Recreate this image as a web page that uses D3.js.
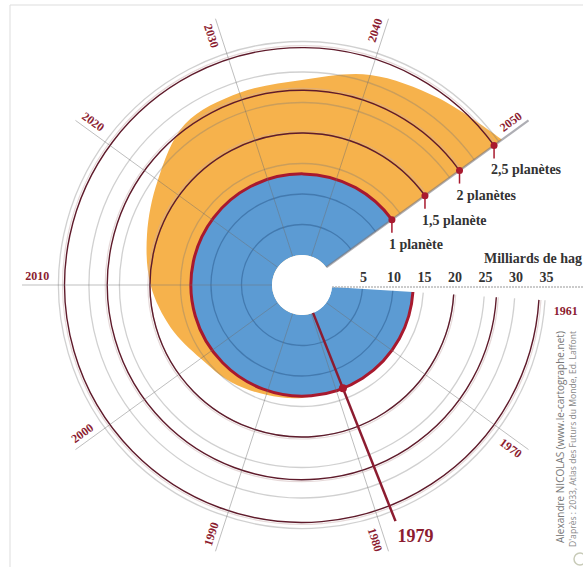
<!DOCTYPE html>
<html><head><meta charset="utf-8">
<script src="https://cdn.jsdelivr.net/npm/d3@7"></script>
<style>
html,body{margin:0;padding:0;background:#fff;}
svg{display:block;}
</style></head>
<body>
<svg id="chart" width="583" height="567"></svg>
<script>
// ---- data ----
const yearLabels = [1961, 1970, 1980, 1990, 2000, 2010, 2020, 2030, 2040, 2050];
const decadeLines = [1970, 1980, 1990, 2000, 2010, 2020, 2030, 2040, 2050];
const tickValues = [5, 10, 15, 20, 25, 30, 35];
const gridValues = [5, 10, 15, 20, 25, 30, 35];
const planetNames = ["1 planète", "1,5 planète", "2 planètes", "2,5 planètes"];
const planetValues = [13.3, 20.0, 27.0, 34.0];
const footYears  = [1979, 1985, 1990, 1995, 2000, 2005, 2010, 2015, 2020, 2025, 2030, 2035, 2040, 2045, 2050];
const footValues = [13.3, 13.6, 14.0, 14.8, 15.6, 17.7, 19.9, 21.8, 24.3, 27.7, 28.2, 28.7, 31.3, 33.0, 35.6];
const firstYear = 1961, lastYear = 2050, overshootYear = 1979;
const axisTitle = "Milliards de hag";
const credit1 = "Alexandre NICOLAS (www.le-cartographe.net)";
const credit2 = "D'après : 2033, Atlas des Futurs du Monde, Ed. Laffont";

// ---- setup ----
const svg = d3.select("#chart");
const cx = 302, cy = 285;
const g = svg.append("g").attr("transform", `translate(${cx},${cy})`);
const r = d3.scaleLinear().domain([0, 35]).range([30, 243.5]);
const a = d3.scaleLinear().domain([1960, 2060]).range([Math.PI / 2, Math.PI / 2 + 2 * Math.PI]);
const serif = "'Liberation Serif','DejaVu Serif',serif";
const darkRed = "#8c1c30";

// frame
svg.append("line").attr("x1", 10).attr("y1", 5).attr("x2", 583).attr("y2", 5).attr("stroke", "#ddd");
svg.append("line").attr("x1", 10).attr("y1", 5).attr("x2", 10).attr("y2", 567).attr("stroke", "#ddd");

// orange footprint area
const area = d3.areaRadial()
  .angle((d, i) => a(footYears[i]))
  .innerRadius(r(0))
  .outerRadius((d, i) => r(footValues[i]))
  .curve(d3.curveCatmullRom);
g.append("path").attr("d", area(footValues)).attr("fill", "#f6b24c");

// blue biocapacity sector
g.append("path")
  .attr("d", d3.arc()({innerRadius: r(0), outerRadius: r(planetValues[0]), startAngle: a(firstYear), endAngle: a(lastYear)}))
  .attr("fill", "#5c9bd3");

// grid circles
const arcGen = d3.arc();
gridValues.forEach(v => {
  const inBlue = v < planetValues[0];
  g.append("path")
    .attr("d", arcGen({innerRadius: r(v), outerRadius: r(v), startAngle: a(firstYear), endAngle: a(lastYear)}))
    .attr("fill", "none")
    .attr("stroke", inBlue ? "rgba(20,60,110,0.35)" : "rgba(120,120,120,0.35)")
    .attr("stroke-width", 1.3);
});

// planet circles
planetValues.forEach((v, i) => {
  if (i > 0) {
    g.append("path")
      .attr("d", arcGen({innerRadius: r(v) + 2, outerRadius: r(v) + 2, startAngle: a(firstYear), endAngle: a(lastYear)}))
      .attr("fill", "none").attr("stroke", "rgba(200,170,170,0.45)").attr("stroke-width", 1.2);
  }
  g.append("path")
    .attr("d", arcGen({innerRadius: r(v), outerRadius: r(v), startAngle: a(firstYear), endAngle: a(lastYear)}))
    .attr("fill", "none")
    .attr("stroke", i === 0 ? "#a8192e" : "#5f1b2b")
    .attr("stroke-width", i === 0 ? 3 : 1.4);
});

// decade lines
decadeLines.forEach(y => {
  const p0 = d3.pointRadial(a(y), r(0));
  const p1 = d3.pointRadial(a(y), 280);
  g.append("line")
    .attr("x1", p0[0]).attr("y1", p0[1]).attr("x2", p1[0]).attr("y2", p1[1])
    .attr("stroke", y === lastYear ? "rgba(120,120,130,0.6)" : "rgba(110,110,110,0.45)")
    .attr("stroke-width", y === lastYear ? 2.2 : 1);
});

// radial value axis (1960 direction)
{
  const p0 = d3.pointRadial(a(1960), r(0));
  g.append("line").attr("x1", p0[0]).attr("y1", p0[1] + 2).attr("x2", 583 - cx).attr("y2", p0[1] + 2)
    .attr("stroke", "#bbb").attr("stroke-width", 1.5).attr("stroke-dasharray", "2,1");
}
g.selectAll(".tick").data(tickValues).enter().append("text")
  .attr("x", d => r(d) + 1).attr("y", -3)
  .attr("text-anchor", "middle")
  .attr("font-family", serif).attr("font-weight", "bold").attr("font-size", 14)
  .attr("fill", "#333").text(d => d);
svg.append("text").attr("x", 582).attr("y", 263).attr("text-anchor", "end")
  .attr("font-family", serif).attr("font-weight", "bold").attr("font-size", 14)
  .attr("fill", "#333").text(axisTitle);

// white hole
g.append("circle").attr("r", r(0)).attr("fill", "#fff");

// year labels
yearLabels.forEach(y => {
  const deg = (y - 1960) * 3.6;
  const off = y <= 2020 ? 2 : -2;
  const rad = (deg + off) * Math.PI / 180;
  const x = 265 * Math.cos(rad), yy = 265 * Math.sin(rad);
  let rot = 0;
  if (y !== firstYear) {
    rot = (deg <= 90) ? deg : (deg >= 270 ? deg - 360 : deg - 180);
  }
  g.append("text")
    .attr("transform", `translate(${x},${yy}) rotate(${rot})`)
    .attr("text-anchor", "middle").attr("dominant-baseline", "central")
    .attr("font-family", serif).attr("font-weight", "bold").attr("font-size", 12)
    .attr("fill", darkRed).text(y);
});

// 1979 overshoot line
{
  const p0 = d3.pointRadial(a(overshootYear), r(0));
  const p1 = d3.pointRadial(a(overshootYear), 254);
  g.append("line").attr("x1", p0[0]).attr("y1", p0[1]).attr("x2", p1[0]).attr("y2", p1[1])
    .attr("stroke", darkRed).attr("stroke-width", 2.5);
  const pd = d3.pointRadial(a(overshootYear), r(planetValues[0]));
  g.append("circle").attr("cx", pd[0]).attr("cy", pd[1]).attr("r", 4).attr("fill", "#a8192e");
  g.append("text").attr("x", p1[0] + 2).attr("y", p1[1] + 21)
    .attr("font-family", serif).attr("font-weight", "bold").attr("font-size", 18)
    .attr("fill", darkRed).text(overshootYear);
}

// planet markers at 2050
planetValues.forEach((v, i) => {
  const p = d3.pointRadial(a(lastYear), r(v));
  g.append("line").attr("x1", p[0]).attr("y1", p[1]).attr("x2", p[0]).attr("y2", p[1] + 13)
    .attr("stroke", "#a8192e").attr("stroke-width", 1.5);
  g.append("circle").attr("cx", p[0]).attr("cy", p[1]).attr("r", 3.5).attr("fill", "#a8192e");
  g.append("text").attr("x", p[0] - 3).attr("y", p[1] + 29)
    .attr("font-family", serif).attr("font-weight", "bold").attr("font-size", 14)
    .attr("fill", "#333").text(planetNames[i]);
});

// credits
svg.append("text").attr("transform", "translate(564,543) rotate(-90)")
  .attr("font-family", "'Open Sans','DejaVu Sans',sans-serif").attr("font-size", 10)
  .attr("fill", "#777").text(credit1);
svg.append("text").attr("transform", "translate(576,547) rotate(-90)")
  .attr("font-family", "'Open Sans','DejaVu Sans',sans-serif").attr("font-size", 8.6)
  .attr("fill", "#888").text(credit2);
svg.append("circle").attr("cx", 580).attr("cy", 559).attr("r", 6).attr("fill", "none").attr("stroke", "#c8cbb8").attr("stroke-width", 1.5);
</script>
</body></html>
